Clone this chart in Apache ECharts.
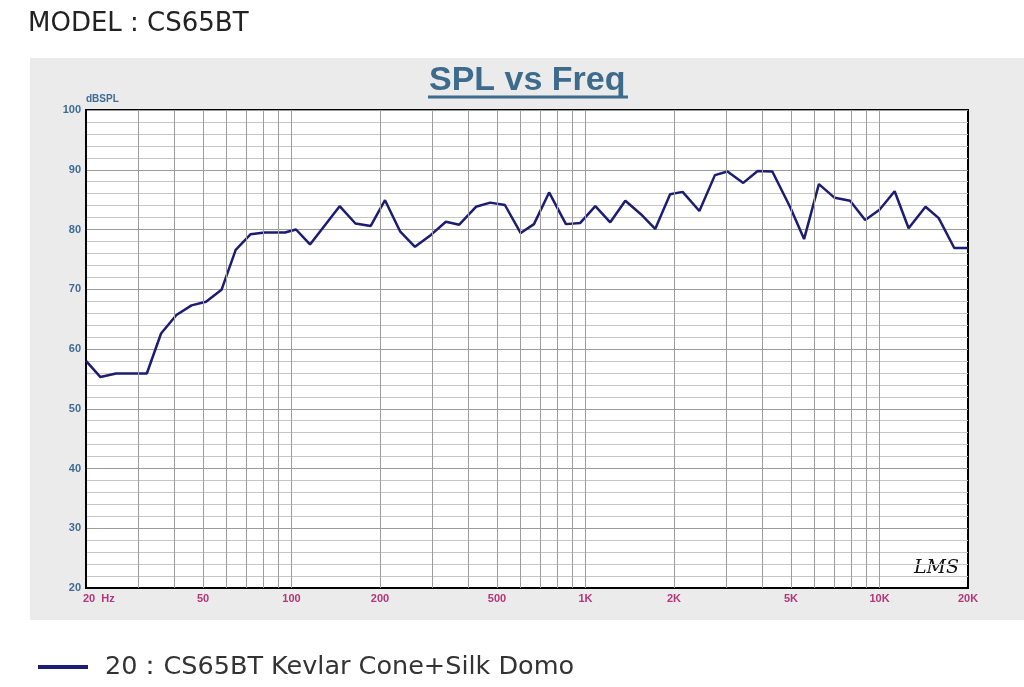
<!DOCTYPE html>
<html>
<head>
<meta charset="utf-8">
<script src="https://cdn.jsdelivr.net/npm/echarts@6/dist/echarts.min.js"></script>
<style>
  html, body { margin: 0; padding: 0; background: #fff; }
  #main { width: 1024px; height: 687px; }
</style>
</head>
<body>
<div id="main"></div>
<script>
  // 频率 (Hz) 与声压级 (dB SPL)
  var freqs = [20, 22.4, 25.3, 32.2, 36, 40.6, 45.7, 51.2, 57.8, 64.6,
    72.5, 81.2, 95, 103.6, 115.6, 145.8, 165, 186, 208, 234,
    263, 298, 335, 372, 424, 474, 532, 602, 668, 752,
    858, 960, 1080, 1214, 1366, 1540, 1726, 1940, 2140, 2440,
    2756, 3040, 3440, 3850, 4320, 4960, 5540, 6220, 7040, 7940,
    8940, 10000, 11260, 12560, 14340, 15900, 17960, 20000];
  var spl = [58.0, 55.3, 55.9, 55.9, 62.6, 65.7, 67.3, 67.9, 69.9, 76.6,
    79.2, 79.5, 79.5, 80.0, 77.5, 83.9, 81.0, 80.6, 84.9, 79.7,
    77.1, 79.1, 81.3, 80.8, 83.8, 84.5, 84.1, 79.4, 80.9, 86.2,
    80.9, 81.1, 83.9, 81.2, 84.8, 82.6, 80.1, 85.9, 86.3, 83.1,
    89.1, 89.7, 87.8, 89.8, 89.7, 83.8, 78.4, 87.6, 85.3, 84.8,
    81.6, 83.3, 86.4, 80.2, 83.8, 81.9, 76.9, 76.9];

  // 竖向网格线 (对数刻度) 和刻度标签
  var gridFreqs = [30, 40, 50, 60, 70, 80, 90, 100, 200, 300, 400, 500, 600, 700, 800, 900,
    1000, 2000, 3000, 4000, 5000, 6000, 7000, 8000, 9000, 10000];
  var tickFreqs = [20, 50, 100, 200, 500, 1000, 2000, 5000, 10000, 20000];
  var tickLabels = ['20  Hz', '50', '100', '200', '500', '1K', '2K', '5K', '10K', '20K'];

  var seriesName = '20：CS65BT Kevlar Cone+Silk Domo';

  var gridLines = gridFreqs.map(function (f) {
    return { xAxis: f, label: { show: false } };
  });
  var tickLines = tickFreqs.map(function (f, i) {
    return {
      xAxis: f,
      lineStyle: { color: 'rgba(0,0,0,0)' },
      label: {
        show: true,
        position: 'start',
        distance: 5,
        formatter: tickLabels[i],
        align: i === 0 ? 'left' : 'center',
        offset: i === 0 ? [-3, 0] : [0, 0],
        color: '#b3357a',
        fontWeight: 'bold',
        fontSize: 11,
        fontFamily: 'Liberation Sans'
      }
    };
  });

  var option = {
    animation: false,
    title: [{
      text: 'MODEL : CS65BT',
      left: 23,
      top: 6,
      textStyle: { fontSize: 26, fontWeight: 'normal', color: '#222', fontFamily: 'DejaVu Sans' }
    }, {
      text: 'SPL vs Freq',
      left: 424,
      top: 59,
      textStyle: { fontSize: 34, fontWeight: 'bold', color: '#3d6b8c', fontFamily: 'Liberation Sans' }
    }],
    graphic: [{
      type: 'rect',
      z: -10,
      shape: { x: 30, y: 58, width: 994, height: 562 },
      style: { fill: '#ebebeb' }
    }, {
      type: 'line',
      shape: { x1: 428, y1: 97, x2: 628, y2: 97 },
      style: { stroke: '#3d6b8c', lineWidth: 3 }
    }, {
      type: 'text',
      left: 914,
      top: 559,
      style: { text: 'LMS', font: 'italic 19px "DejaVu Serif"', fill: '#111' }
    }],
    legend: {
      left: 33,
      top: 649,
      icon: 'rect',
      itemWidth: 50,
      itemHeight: 4,
      textStyle: { fontSize: 25.5, color: '#333', fontFamily: 'DejaVu Sans', padding: [0, 0, 0, 12] },
      data: [seriesName]
    },
    grid: {
      show: true,
      left: 86,
      top: 110,
      right: 56,
      bottom: 99,
      backgroundColor: '#fff',
      borderColor: '#000',
      borderWidth: 2
    },
    xAxis: {
      type: 'log',
      logBase: 10,
      min: 20,
      max: 20000,
      axisLine: { show: true, lineStyle: { color: '#000', width: 2 } },
      axisTick: { show: false },
      axisLabel: { show: false },
      splitLine: { show: false }
    },
    yAxis: {
      type: 'value',
      min: 20,
      max: 100,
      interval: 10,
      name: 'dBSPL',
      nameLocation: 'end',
      nameGap: 5,
      nameTextStyle: { align: 'left', color: '#3d6b94', fontWeight: 'bold', fontSize: 10, fontFamily: 'Liberation Sans' },
      axisLine: { show: true, lineStyle: { color: '#000', width: 2 } },
      axisTick: { show: false },
      axisLabel: { color: '#3d6b94', fontWeight: 'bold', fontSize: 11, margin: 5, fontFamily: 'Liberation Sans' },
      splitLine: { show: true, lineStyle: { color: '#9c9c9c', width: 1 } },
      minorTick: { show: false, splitNumber: 5 },
      minorSplitLine: { show: true, lineStyle: { color: '#c6c6c6', width: 1 } }
    },
    series: [{
      name: 'grid',
      type: 'line',
      data: [],
      silent: true,
      z: 1,
      markLine: {
        silent: true,
        symbol: ['none', 'none'],
        animation: false,
        lineStyle: { color: '#9c9c9c', type: 'solid', width: 1 },
        data: gridLines.concat(tickLines)
      }
    }, {
      name: seriesName,
      type: 'line',
      z: 3,
      showSymbol: false,
      color: '#1c1c72',
      lineStyle: { width: 2.5, color: '#1c1c72' },
      data: freqs.map(function (f, i) { return [f, spl[i]]; })
    }]
  };

  echarts.init(document.getElementById('main')).setOption(option);
</script>
</body>
</html>
